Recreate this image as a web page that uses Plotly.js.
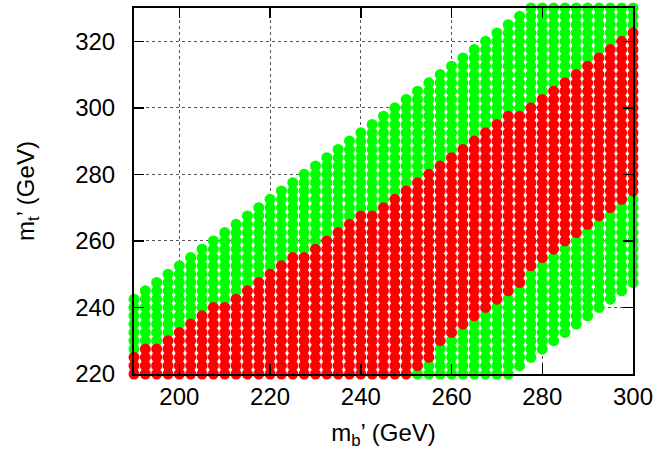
<!DOCTYPE html>
<html><head><meta charset="utf-8">
<script src="https://cdn.plot.ly/plotly-3.0.1.min.js"></script>
<style>html,body{margin:0;padding:0;background:#fff}</style>
</head><body><div id="chart" style="width:661px;height:455px"></div>
<script>
// m_b' scan columns (GeV)
const mbPrime = [190,192.5,195,197.5,200,202.5,205,207.5,210,212.5,215,217.5,220,222.5,225,227.5,230,232.5,235,237.5,240,242.5,245,247.5,250,252.5,255,257.5,260,262.5,265,267.5,270,272.5,275,277.5,280,282.5,285,287.5,290,292.5,295,297.5,300];
// allowed (green) m_t' band per column: lowest and highest scanned point (GeV)
const greenLow  = [220,220,220,220,220,220,220,220,220,220,220,220,220,220,220,220,220,220,220,220,220,220,220,220,220,220,220,220,220,220,220,220,220,220,222.5,225,227.5,230,232.5,235,237.5,240,242.5,245,247.5];
const greenHigh = [242.5,245,247.5,250,252.5,255,257.5,260,262.5,265,267.5,270,272.5,275,277.5,280,282.5,285,287.5,290,292.5,295,297.5,300,302.5,305,307.5,310,312.5,315,317.5,320,322.5,325,327.5,330,330,330,330,330,330,330,330,330,330];
// red band per column (GeV)
const redLow  = [220,220,220,220,220,220,220,220,220,220,220,220,220,220,220,220,220,220,220,220,220,220,220,220,220,222.5,225,230,232.5,235,237.5,240,242.5,245,247.5,252.5,255,257.5,260,262.5,265,267.5,270,272.5,275];
const redHigh = [225,227.5,227.5,230,232.5,235,237.5,240,240,242.5,245,247.5,250,252.5,255,255,257.5,260,262.5,265,267.5,267.5,270,272.5,275,277.5,280,282.5,285,287.5,290,292.5,295,297.5,297.5,300,302.5,305,307.5,310,312.5,315,317.5,320,322.5];
const mtStep = 2.5; // scan spacing in m_t'
const xTicks = [200,220,240,260,280,300];
const yTicks = [220,240,260,280,300,320];

const gx=[],gy=[],rx=[],ry=[];
mbPrime.forEach((x,i)=>{
  const nG = Math.round((greenHigh[i]-greenLow[i])/mtStep);
  for(let j=0;j<=nG;j++){
    const y = greenLow[i]+j*mtStep;
    if(y>=redLow[i]-1e-6 && y<=redHigh[i]+1e-6) continue;
    gx.push(x); gy.push(y);
  }
  const nR = Math.round((redHigh[i]-redLow[i])/mtStep);
  for(let j=0;j<=nR;j++){ rx.push(x); ry.push(redLow[i]+j*mtStep); }
});

const font = {family:'"Liberation Sans", Arial, sans-serif', size:24, color:'#000'};
const axisCommon = {
  showline:true, linecolor:'#000', linewidth:2, mirror:'ticks',
  ticks:'inside', ticklen:10, tickwidth:1.5, tickcolor:'#000',
  showgrid:true, gridcolor:'#555', gridwidth:1, griddash:'dot',
  zeroline:false, layer:'above traces', tickfont:font
};
const data = [
  {type:'scatter', mode:'markers', x:gx, y:gy, cliponaxis:false,
   marker:{color:'#00ff00', size:11, line:{width:0}}, hoverinfo:'skip'},
  {type:'scatter', mode:'markers', x:rx, y:ry, cliponaxis:false,
   marker:{color:'#ff0000', size:11, line:{width:0}}, hoverinfo:'skip'}
];
const layout = {
  width:661, height:455, showlegend:false,
  paper_bgcolor:'#fff', plot_bgcolor:'#fff',
  margin:{l:134, r:28, t:8, b:81},
  font:font,
  xaxis:Object.assign({}, axisCommon, {range:[190,300], tickvals:xTicks, ticktext:xTicks.map(String),
    ticklabelstandoff:0,
    title:{text:'m<sub>b</sub>’ (GeV)', font:font, standoff:15}}),
  yaxis:Object.assign({}, axisCommon, {range:[220,330], tickvals:yTicks, ticktext:yTicks.map(String),
    ticklabelstandoff:12,
    title:{text:'m<sub>t</sub>’ (GeV)', font:font, standoff:34}})
};
Plotly.newPlot('chart', data, layout, {staticPlot:true, displayModeBar:false});
</script>
</body></html>
